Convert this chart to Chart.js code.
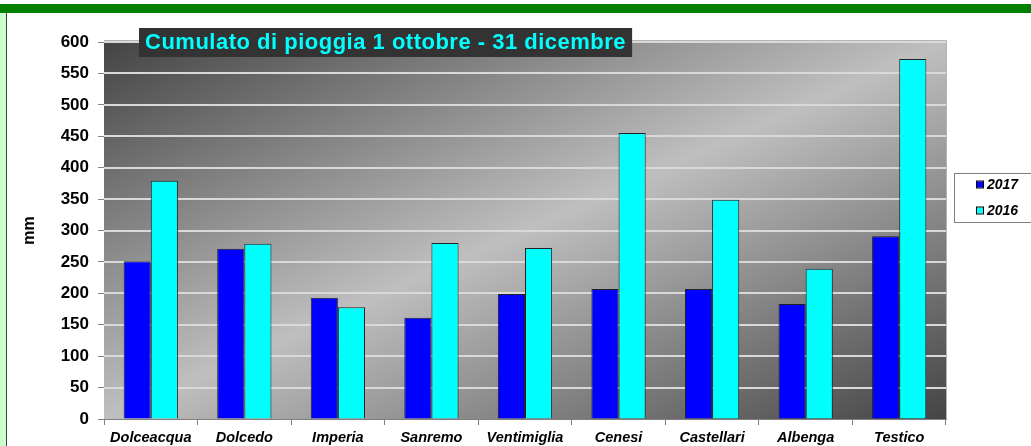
<!DOCTYPE html>
<html>
<head>
<meta charset="utf-8">
<script src="https://cdn.jsdelivr.net/npm/chart.js@4"></script>
<style>
  html, body { margin: 0; padding: 0; background: #fff; }
  #wrap { position: relative; width: 1031px; height: 446px; overflow: hidden; }
  #band { position: absolute; left: 0; top: 4px; width: 1031px; height: 9px; background: #008000; }
  #strip { position: absolute; left: 0; top: 13px; width: 6px; height: 433px; background: #ccffcc; border-right: 1px solid #404040; }
  canvas { position: absolute; left: 0; top: 0; }
</style>
</head>
<body>
<div id="wrap">
  <div id="band"></div>
  <div id="strip"></div>
  <canvas id="graph" width="1031" height="446"></canvas>
</div>
<script>
const stations = ["Dolceacqua", "Dolcedo", "Imperia", "Sanremo", "Ventimiglia", "Cenesi", "Castellari", "Albenga", "Testico"];
const rain2017 = [251, 271, 193, 161, 199, 207, 207, 183, 291];
const rain2016 = [379, 279, 178, 280, 272, 455, 349, 239, 573];
const yTicks = [0, 50, 100, 150, 200, 250, 300, 350, 400, 450, 500, 550, 600];
const chartTitle = "Cumulato di pioggia 1 ottobre - 31 dicembre";

const fontFam = "'Liberation Sans', Arial, sans-serif";

// gradient background of the plot area, drawn before the bars
const plotBack = {
    id: "plotBack",
    beforeDatasetsDraw(chart) {
        const a = chart.chartArea;
        const ctx = chart.ctx;
        const w = a.right - a.left, h = a.bottom - a.top;
        const cx = a.left + w / 2, cy = a.top + h / 2;
        const k = (w * h) / (w * w + h * h);
        const g = ctx.createLinearGradient(cx - h * k, cy - w * k, cx + h * k, cy + w * k);
        g.addColorStop(0, "#444444");
        g.addColorStop(0.5, "#bfbfbf");
        g.addColorStop(1, "#444444");
        ctx.save();
        ctx.fillStyle = g;
        ctx.fillRect(a.left, a.top, w, h);
        // grid lines over the gradient
        const y = chart.scales.y;
        ctx.strokeStyle = "#d9d9d9";
        ctx.lineWidth = 2;
        yTicks.forEach(t => {
            if (t === 0) return;
            const py = Math.round(y.getPixelForValue(t));
            ctx.beginPath();
            ctx.moveTo(a.left, py);
            ctx.lineTo(a.right, py);
            ctx.stroke();
        });
        ctx.strokeStyle = "#b4b4b4";
        ctx.lineWidth = 1;
        ctx.beginPath();
        ctx.moveTo(a.left, a.top - 1.5);
        ctx.lineTo(a.right + 0.5, a.top - 1.5);
        ctx.lineTo(a.right + 0.5, a.bottom);
        ctx.stroke();
        ctx.restore();
    }
};

// title box and legend box
const extras = {
    id: "extras",
    afterDraw(chart) {
        const ctx = chart.ctx;
        ctx.save();
        ctx.font = "bold 22px " + fontFam;
        ctx.letterSpacing = "0.5px";
        const tw = ctx.measureText(chartTitle).width;
        ctx.fillStyle = "#333333";
        ctx.fillRect(139, 28, tw + 12, 29);
        ctx.fillStyle = "#00ffff";
        ctx.textBaseline = "middle";
        ctx.fillText(chartTitle, 145, 43);
        ctx.letterSpacing = "0px";

        ctx.fillStyle = "#ffffff";
        ctx.fillRect(954, 173, 80, 50);
        ctx.strokeStyle = "#808080";
        ctx.lineWidth = 1;
        ctx.strokeRect(954.5, 173.5, 80, 49);
        ctx.font = "bold italic 14px " + fontFam;
        chart.data.datasets.forEach((ds, i) => {
            const yy = 184.5 + i * 26;
            ctx.fillStyle = ds.backgroundColor;
            ctx.fillRect(977, yy - 3, 6, 6);
            ctx.strokeStyle = "#000";
            ctx.strokeRect(976.5, yy - 3.5, 7, 7);
            ctx.fillStyle = "#000";
            ctx.fillText(ds.label, 987, yy + 0.5);
        });
        ctx.restore();
    }
};

const ctx = document.getElementById("graph").getContext("2d");
const rainChart = new Chart(ctx, {
    type: "bar",
    data: {
        labels: stations,
        datasets: [
            { label: "2017", data: rain2017, backgroundColor: "#0000ff", borderColor: "#222222", borderWidth: 1 },
            { label: "2016", data: rain2016, backgroundColor: "#00ffff", borderColor: "#222222", borderWidth: 1 }
        ]
    },
    options: {
        responsive: false,
        animation: false,
        layout: { padding: { top: 42, right: 85, left: 0, bottom: 0 } },
        datasets: { bar: { categoryPercentage: 0.58, barPercentage: 1 } },
        plugins: { legend: { display: false }, title: { display: false }, tooltip: { enabled: false } },
        scales: {
            x: {
                grid: { offset: true, drawOnChartArea: false, drawTicks: true, tickLength: 6, color: "#808080" },
                border: { color: "#808080" },
                ticks: { color: "#000", padding: 4, font: { family: fontFam, size: 14.5, weight: "bold", style: "italic" } },
                afterFit(scale) { scale.height = 27; }
            },
            y: {
                min: 0,
                max: 600,
                afterBuildTicks(scale) { scale.ticks = yTicks.map(v => ({ value: v })); },
                grid: { drawOnChartArea: false, drawTicks: true, tickLength: 6, color: "#808080" },
                border: { color: "#808080" },
                ticks: { color: "#000", padding: 9, font: { family: fontFam, size: 17, weight: "bold" } },
                title: { display: true, text: "mm", color: "#000", padding: { top: 20, bottom: 0 }, font: { family: fontFam, size: 16, weight: "bold" } },
                afterFit(scale) { scale.width = 104; }
            }
        }
    },
    plugins: [plotBack, extras]
});
</script>
</body>
</html>
